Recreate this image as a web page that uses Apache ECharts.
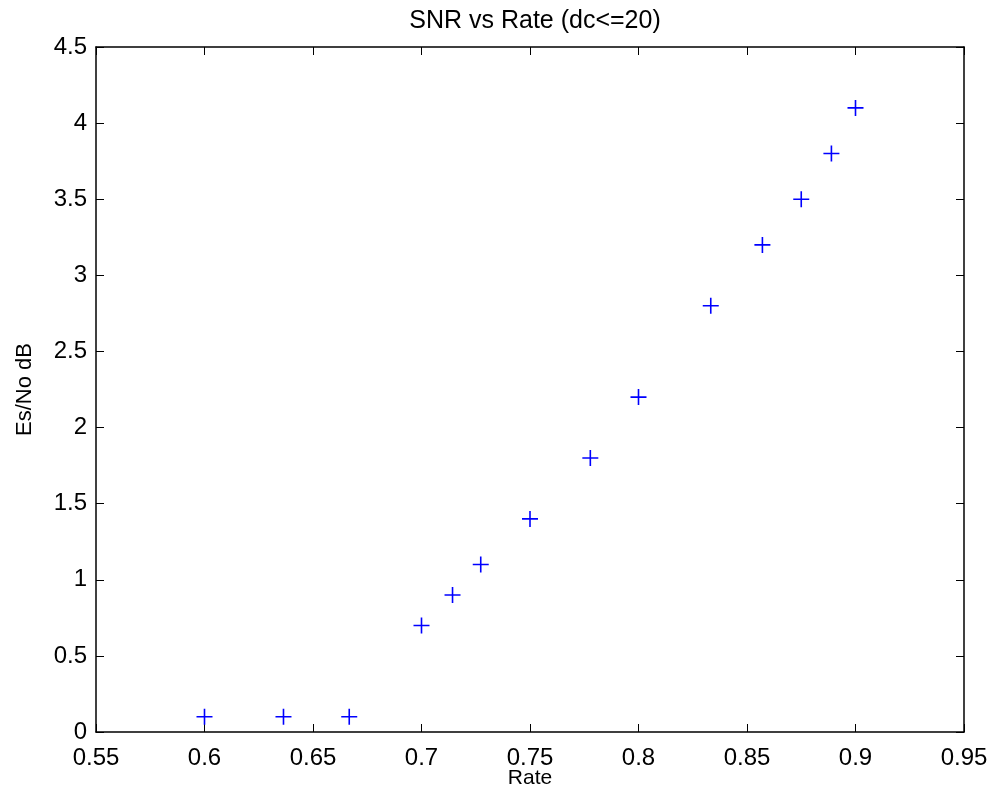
<!DOCTYPE html>
<html>
<head>
<meta charset="utf-8">
<script src="https://cdn.jsdelivr.net/npm/echarts@6/dist/echarts.min.js"></script>
<style>
html,body{margin:0;padding:0;background:#fff;}
#chart{width:994px;height:800px;}
</style>
</head>
<body>
<div id="chart"></div>
<script>
const rates = [0.6, 0.6364, 0.6667, 0.7, 0.7143, 0.7273, 0.75, 0.7778, 0.8, 0.8333, 0.8571, 0.875, 0.8889, 0.9];
const snrDb = [0.1, 0.1, 0.1, 0.7, 0.9, 1.1, 1.4, 1.8, 2.2, 2.8, 3.2, 3.5, 3.8, 4.1];
const titleText = 'SNR vs Rate (dc<=20)';
const xName = 'Rate';
const yName = 'Es/No dB';

const FONT = '"Liberation Sans", Arial, Helvetica, sans-serif';
const chart = echarts.init(document.getElementById('chart'), null, {renderer: 'canvas'});
const axisLine = {show: true, onZero: false, lineStyle: {color: '#000', width: 1.5}};
const axisTick = {show: true, inside: true, length: 8, lineStyle: {color: '#000', width: 1}};
const fmtX = v => String(parseFloat(v.toFixed(2)));
const fmtY = v => String(parseFloat(v.toFixed(2)));

chart.setOption({
  animation: false,
  backgroundColor: '#fff',
  title: {
    text: titleText,
    left: 530, top: 4, textAlign: 'center',
    textStyle: {fontFamily: FONT, fontSize: 25, fontWeight: 'normal', color: '#000'}
  },
  grid: {left: 96, right: 30, top: 47, bottom: 68, containLabel: false},
  xAxis: [{
    type: 'value', position: 'bottom', min: 0.55, max: 0.95, interval: 0.05,
    name: xName, nameLocation: 'middle', nameGap: 36, nameMoveOverlap: false,
    nameTextStyle: {fontFamily: FONT, fontSize: 21, color: '#000'},
    axisLine, axisTick, splitLine: {show: false},
    axisLabel: {fontFamily: FONT, fontSize: 24, color: '#000', margin: 14, formatter: fmtX}
  }, {
    type: 'value', position: 'top', min: 0.55, max: 0.95, interval: 0.05,
    axisLine, axisTick, splitLine: {show: false}, axisLabel: {show: false}
  }],
  yAxis: [{
    type: 'value', position: 'left', min: 0, max: 4.5, interval: 0.5,
    name: yName, nameLocation: 'middle', nameGap: 60, nameMoveOverlap: false,
    nameTextStyle: {fontFamily: FONT, fontSize: 22, color: '#000'},
    axisLine, axisTick, splitLine: {show: false},
    axisLabel: {fontFamily: FONT, fontSize: 24, color: '#000', margin: 9, formatter: fmtY}
  }, {
    type: 'value', position: 'right', min: 0, max: 4.5, interval: 0.5,
    axisLine, axisTick, splitLine: {show: false}, axisLabel: {show: false}
  }],
  series: [{
    type: 'scatter',
    xAxisIndex: 0, yAxisIndex: 0,
    data: rates.map((r, i) => [r, snrDb[i]]),
    symbol: 'path://M0,7.2H16V8.8H0Z M7.2,0H8.8V16H7.2Z',
    symbolSize: 16,
    itemStyle: {color: '#0000ff', opacity: 1},
    emphasis: {disabled: true}
  }]
});
</script>
</body>
</html>
